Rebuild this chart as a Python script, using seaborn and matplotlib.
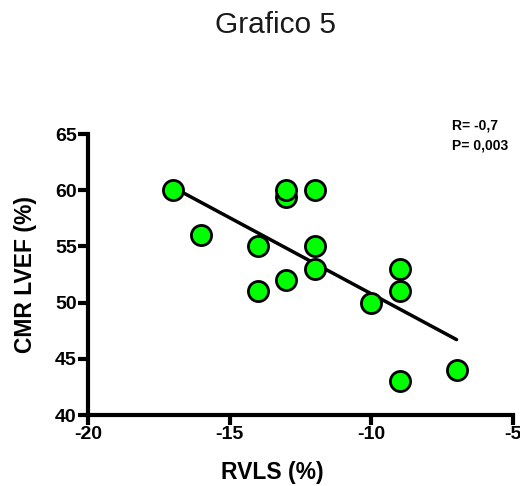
import matplotlib
matplotlib.use("Agg")
import matplotlib.pyplot as plt
import seaborn as sns
import numpy as np
import pandas as pd

rvls = [-17, -16, -14, -14, -13, -13, -13, -12, -12, -12, -10, -9, -9, -9, -7]
lvef = [60, 56, 55, 51, 59.4, 60, 52, 60, 55, 53, 50, 53, 51, 43, 44]
x_ticks = [-20, -15, -10, -5]
y_ticks = [40, 45, 50, 55, 60, 65]

df = pd.DataFrame({"RVLS": rvls, "LVEF": lvef})

sns.set_style("ticks")
plt.rcParams['font.family'] = ['Liberation Sans', 'DejaVu Sans']
plt.rcParams['text.color'] = 'black'
plt.rcParams['axes.labelcolor'] = 'black'
plt.rcParams['xtick.color'] = 'black'
plt.rcParams['ytick.color'] = 'black'

fig = plt.figure(figsize=(5.2, 4.86), dpi=100)
ax = fig.add_axes([0.169, 0.146, 0.818, 0.578])

sns.regplot(data=df, x="RVLS", y="LVEF", ax=ax, ci=None, truncate=True,
            scatter_kws=dict(s=210, color="#00ff00", edgecolor="black", linewidths=2, alpha=1, zorder=3),
            line_kws=dict(color="black", linewidth=2.5, zorder=2))

ax.set_xlim(-20, -5)
ax.set_ylim(40, 65)
ax.set_xticks(x_ticks)
ax.set_yticks(y_ticks)
ax.set_xticklabels([str(v) for v in x_ticks], fontweight="bold", fontsize=14)
ax.set_yticklabels([str(v) for v in y_ticks], fontweight="bold", fontsize=14)
ax.tick_params(width=3, length=7, direction="out", pad=1, color="black")
for s in ["left", "bottom"]:
    ax.spines[s].set_linewidth(3)
    ax.spines[s].set_color("black")
sns.despine(ax=ax)
for s in ax.spines.values():
    s.set_clip_on(False)

ax.set_xlabel("RVLS (%)", fontweight="bold", fontsize=16.5)
ax.set_ylabel("CMR LVEF (%)", fontweight="bold", fontsize=16.5)
ax.xaxis.set_label_coords(0.433, -0.165)
ax.yaxis.set_label_coords(-0.119, 0.5)

fig.text(0.529, 0.948, "Grafico 5", ha="center", va="center", fontsize=21.5, color="#1a1a1a")
fig.text(0.869, 0.741, "R= -0,7", ha="left", va="center", fontsize=10, fontweight="bold")
fig.text(0.869, 0.700, "P= 0,003", ha="left", va="center", fontsize=10, fontweight="bold")

fig.savefig("out.png", dpi=100)
